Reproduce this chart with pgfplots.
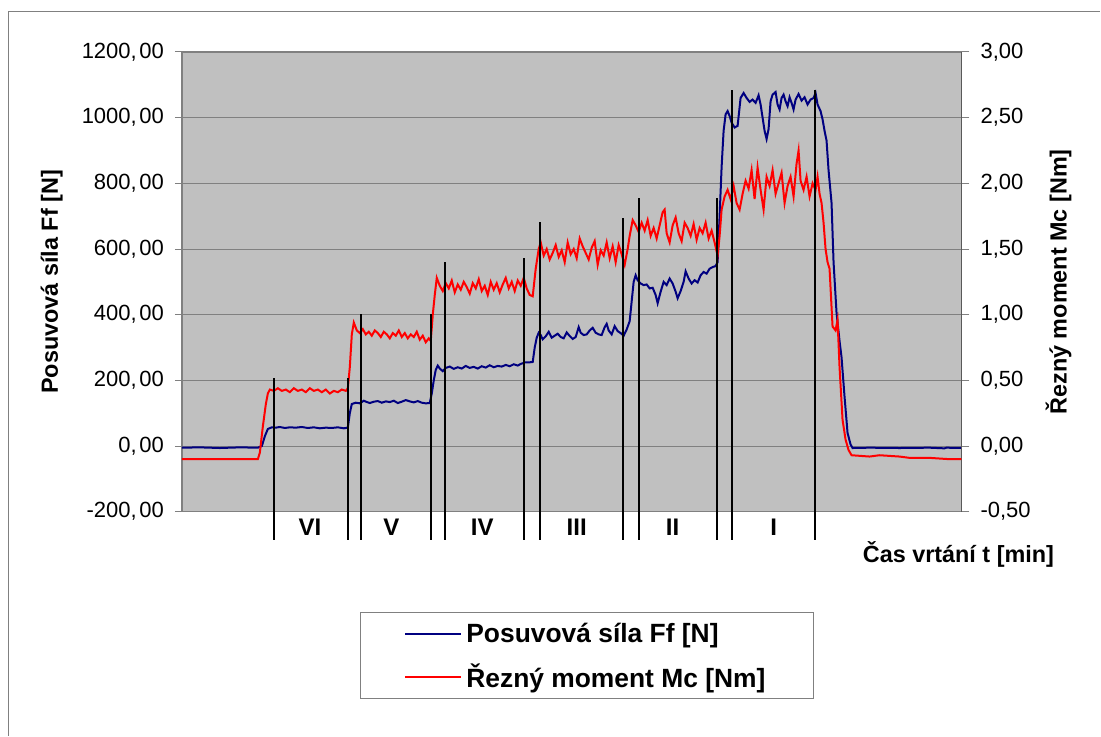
\documentclass[border=0pt]{standalone}
\usepackage{pgfplots}
\pgfplotsset{compat=1.18}
\usepackage{fontspec}
\setmainfont{Liberation Sans}
\definecolor{bgray}{HTML}{C0C0C0}
\definecolor{ggray}{HTML}{808080}
\definecolor{fnavy}{HTML}{000080}
\definecolor{mred}{HTML}{FF0000}
\begin{document}
\begin{tikzpicture}
\path (0pt,0pt) rectangle (550.5pt,-368pt);
\draw[ggray, line width=0.6pt] (4.15pt,-368pt) -- (4.15pt,-5.85pt) -- (550.5pt,-5.85pt);
\begin{axis}[
  at={(91pt,-256pt)}, anchor=south west,
  width=390pt, height=230pt, scale only axis,
  xmin=182, xmax=962, ymin=-200, ymax=1200,
  xtick=\empty,
  ytick={-200,0,200,400,600,800,1000,1200},
  ytick pos=left,
  tick align=outside, major tick length=3.5pt,
  axis line style={ggray, line width=0.6pt},
  every tick/.style={ggray, line width=0.5pt},
  ymajorgrids, grid style={ggray, line width=0.5pt},
  axis background/.style={fill=bgray},
  /pgf/number format/assume math mode=true,
  tick label style={font=\fontsize{11}{13}\selectfont},
  y tick label style={xshift=-2pt, /pgf/number format/fixed, /pgf/number format/fixed zerofill, /pgf/number format/precision=2, /pgf/number format/use comma, /pgf/number format/1000 sep={}, /pgf/number format/set decimal separator={,\kern1.3pt}},
  ylabel={Posuvová síla Ff [N]},
  every axis y label/.style={at={(axis description cs:-0.1669,0.5)}, rotate=90, anchor=center, font=\bfseries\fontsize{11.7}{14}\selectfont},
  clip=false,
  legend style={at={(axis description cs:0.2285,-0.219)}, anchor=north west, draw=ggray, fill=white,
    inner xsep=22pt, inner ysep=0pt, row sep=0pt,
    font=\bfseries\fontsize{13.2}{15}\selectfont,
    nodes={minimum height=21.5pt, inner ysep=0pt}},
  legend cell align=left,
  legend image code/.code={\draw[#1] (0pt,0pt) -- (28pt,0pt);},
]
\addplot[fnavy, line width=1pt] coordinates {
(182,-5) (200,-4) (220,-6) (240,-4) (258,-5) (262,0) (265,30) (268,52) (272,57) (276,56) (280,58) (285,55) (290,57) (296,56) (302,58) (308,55) (314,57) (320,54) (326,56) (332,55) (338,57) (344,54) (348,56)
(350,100) (352,128) (356,132) (360,130) (364,138) (367,134) (370,131) (374,135) (378,137) (382,132) (386,136) (390,134) (394,138) (398,131) (402,135) (406,140) (410,136) (414,133) (418,137) (422,132) (426,130) (430,131)
(432,160) (434,200) (436,232) (438,245) (440,236) (443,228) (446,238) (450,242) (454,235) (458,240) (462,236) (466,244) (470,238) (474,241) (478,236) (482,243) (486,239) (490,246) (494,240) (498,244) (502,242) (506,247) (510,243) (514,249) (518,245) (521,250) (523,252) (525,255) (530,255) (533,256)
(535,300) (537,330) (539,345) (541,338) (543,325) (546,334) (549,348) (552,330) (555,336) (558,342) (561,332) (564,328) (567,346) (570,335) (573,326) (576,332) (579,362) (581,345) (584,338) (587,340) (590,352) (593,360) (596,345) (599,340) (602,338) (605,362) (607,372) (609,352) (612,340) (615,365) (618,350) (621,344) (624,336) (627,355)
(630,380) (632,440) (634,500) (636,520) (638,505) (641,495) (644,490) (647,492) (650,480) (653,482) (656,460) (658,435) (661,470) (664,500) (667,490) (670,510) (673,495) (676,470) (678,450) (681,472) (684,500) (686,532) (689,510) (692,495) (695,505) (698,498) (701,520) (704,530) (707,525) (710,540) (713,545) (716,548) (718,560)
(720,700) (722,850) (724,960) (726,1010) (728,1020) (730,1005) (732,985) (735,970) (738,975) (741,1060) (744,1075) (747,1060) (750,1048) (753,1055) (756,1045) (759,1068) (761,1040) (763,1000) (765,960) (767,935) (769,965) (771,1050) (773,1070) (776,1078) (778,1040) (780,1025) (782,1060) (784,1070) (786,1050) (788,1035) (790,1062) (792,1045) (794,1025) (796,1055) (799,1072) (802,1052) (805,1062) (808,1040) (811,1055) (814,1060) (816,1075)
(818,1040) (821,1020) (823,995) (825,960) (827,930) (829,840) (832,740) (834,560) (837,405) (840,320) (842,270) (845,150) (848,40) (851,5) (853,-6) (870,-5) (900,-6) (930,-5) (945,-7) (947,-5) (962,-6)
};
\addlegendentry{Posuvová síla Ff [N]}
\addlegendimage{mred, line width=1pt}
\addlegendentry{Řezný moment Mc [Nm]}
\end{axis}
\begin{axis}[
  at={(91pt,-256pt)}, anchor=south west,
  width=390pt, height=230pt, scale only axis,
  xmin=182, xmax=962, ymin=-0.5, ymax=3,
  axis x line=none, axis y line*=right,
  ytick={-0.5,0,0.5,1,1.5,2,2.5,3},
  tick align=outside, major tick length=4pt,
  axis line style={black!65, line width=0.8pt},
  every tick/.style={ggray, line width=0.5pt},
  /pgf/number format/assume math mode=true,
  tick label style={font=\fontsize{11}{13}\selectfont},
  y tick label style={xshift=2pt, /pgf/number format/fixed, /pgf/number format/fixed zerofill, /pgf/number format/precision=2, /pgf/number format/use comma, /pgf/number format/1000 sep={}},
  ylabel={Řezný moment Mc [Nm]},
  every axis y label/.style={at={(axis description cs:1.1245,0.5)}, rotate=90, anchor=center, font=\bfseries\fontsize{11.7}{14}\selectfont},
  clip=false,
]
\addplot[mred, line width=1pt] coordinates {
(182,-0.10) (220,-0.10) (258,-0.10) (260,-0.05) (263,0.15) (266,0.32) (268,0.40) (270,0.43) (274,0.42) (278,0.44) (282,0.42) (286,0.43) (290,0.41) (294,0.44) (298,0.42) (302,0.43) (306,0.41) (310,0.44) (314,0.42) (318,0.43) (322,0.41) (326,0.43) (330,0.40) (334,0.42) (338,0.41) (342,0.43) (346,0.42) (348,0.44)
(350,0.60) (352,0.85) (354,0.94) (357,0.88) (360,0.86) (363,0.89) (366,0.85) (369,0.87) (372,0.84) (375,0.88) (378,0.86) (381,0.83) (384,0.87) (387,0.85) (390,0.82) (393,0.86) (396,0.84) (399,0.88) (402,0.83) (405,0.86) (408,0.82) (411,0.85) (414,0.83) (417,0.87) (420,0.81) (423,0.84) (426,0.79) (429,0.82) (431,0.80)
(433,1.00) (435,1.15) (437,1.28) (440,1.22) (443,1.18) (446,1.24) (449,1.20) (452,1.26) (455,1.17) (458,1.23) (461,1.19) (464,1.25) (467,1.21) (470,1.16) (473,1.24) (476,1.20) (479,1.27) (482,1.18) (485,1.22) (488,1.15) (491,1.25) (494,1.19) (497,1.24) (500,1.17) (503,1.23) (506,1.28) (509,1.20) (512,1.25) (515,1.18) (518,1.26) (521,1.22) (524,1.28) (527,1.20) (530,1.15) (533,1.14)
(536,1.35) (539,1.50) (541,1.55) (544,1.45) (547,1.50) (550,1.42) (553,1.47) (556,1.53) (559,1.44) (562,1.49) (565,1.40) (568,1.55) (571,1.46) (574,1.50) (577,1.43) (580,1.58) (583,1.52) (586,1.47) (589,1.42) (592,1.51) (595,1.56) (598,1.38) (601,1.49) (604,1.45) (607,1.55) (610,1.43) (613,1.52) (616,1.40) (619,1.53) (622,1.46) (625,1.38) (628,1.50)
(630,1.60) (633,1.72) (636,1.68) (639,1.63) (642,1.70) (645,1.64) (648,1.72) (651,1.60) (654,1.66) (657,1.58) (660,1.68) (663,1.78) (665,1.80) (667,1.62) (670,1.55) (673,1.68) (676,1.74) (679,1.62) (682,1.56) (685,1.70) (688,1.66) (691,1.60) (694,1.69) (697,1.57) (700,1.66) (703,1.62) (706,1.70) (709,1.58) (712,1.64) (715,1.55) (718,1.45)
(720,1.60) (722,1.80) (725,1.90) (728,1.95) (731,1.88) (734,1.98) (737,1.85) (740,1.80) (743,1.92) (746,2.02) (749,1.96) (752,2.10) (755,1.88) (758,2.12) (761,1.95) (764,1.80) (767,2.05) (770,1.98) (773,2.10) (776,1.92) (779,2.00) (782,2.08) (785,1.85) (788,1.98) (791,2.05) (794,1.90) (797,2.15) (799,2.25) (801,2.02) (804,1.95) (807,2.05) (810,1.90) (813,2.00) (816,1.95) (818,2.05) (820,1.92) (822,1.85)
(824,1.70) (826,1.50) (828,1.40) (830,1.35) (833,0.91) (836,0.88) (838,0.96) (840,0.60) (843,0.20) (846,0.05) (849,-0.03) (852,-0.07) (870,-0.08) (880,-0.07) (900,-0.08) (910,-0.09) (930,-0.09) (950,-0.10) (962,-0.10)
};
\addplot[black, line width=1pt, forget plot] coordinates {(274,-0.713) (274,0.52)};
\addplot[black, line width=1pt, forget plot] coordinates {(348,-0.713) (348,0.52)};
\addplot[black, line width=1pt, forget plot] coordinates {(361,-0.713) (361,1.0065)};
\addplot[black, line width=1pt, forget plot] coordinates {(431,-0.713) (431,1.0065)};
\addplot[black, line width=1pt, forget plot] coordinates {(445,-0.713) (445,1.402)};
\addplot[black, line width=1pt, forget plot] coordinates {(524,-0.713) (524,1.433)};
\addplot[black, line width=1pt, forget plot] coordinates {(540,-0.713) (540,1.706)};
\addplot[black, line width=1pt, forget plot] coordinates {(623,-0.713) (623,1.737)};
\addplot[black, line width=1pt, forget plot] coordinates {(639,-0.713) (639,1.889)};
\addplot[black, line width=1pt, forget plot] coordinates {(717,-0.713) (717,1.889)};
\addplot[black, line width=1pt, forget plot] coordinates {(732,-0.713) (732,2.711)};
\addplot[black, line width=1pt, forget plot] coordinates {(815,-0.713) (815,2.711)};
\node[font=\bfseries\fontsize{12}{14}\selectfont] at (axis cs:310,-0.6217) {VI};
\node[font=\bfseries\fontsize{12}{14}\selectfont] at (axis cs:391.5,-0.6217) {V};
\node[font=\bfseries\fontsize{12}{14}\selectfont] at (axis cs:482.5,-0.6217) {IV};
\node[font=\bfseries\fontsize{12}{14}\selectfont] at (axis cs:577,-0.6217) {III};
\node[font=\bfseries\fontsize{12}{14}\selectfont] at (axis cs:673,-0.6217) {II};
\node[font=\bfseries\fontsize{12}{14}\selectfont] at (axis cs:774,-0.6217) {I};
\node[font=\bfseries\fontsize{11.7}{14}\selectfont] at (axis description cs:0.9961,-0.0935) {Čas vrtání t [min]};
\end{axis}
\end{tikzpicture}
\end{document}
